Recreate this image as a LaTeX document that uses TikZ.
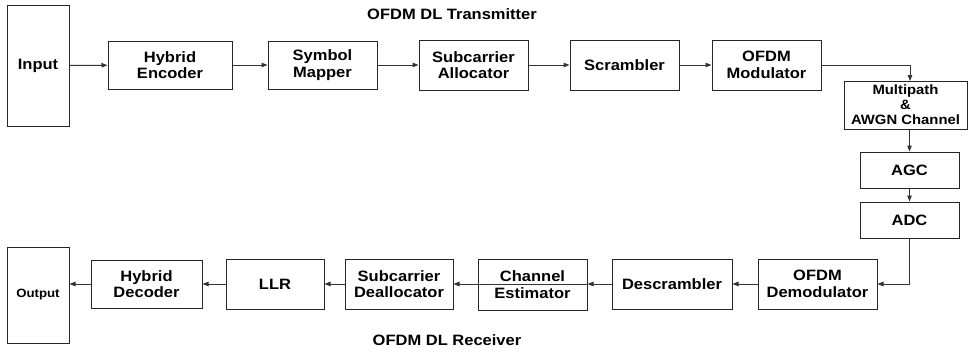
\documentclass[tikz,border=0pt]{standalone}
\usepackage{fontspec}
\setmainfont{Liberation Sans}[FakeStretch=1.1]
\usetikzlibrary{arrows.meta}
\begin{document}
\begin{tikzpicture}[x=1pt,y=-1pt,
  blk/.style={draw=black!85, line width=1pt, rectangle, inner sep=0pt, align=center,
    font=\fontsize{15}{16.5}\selectfont\bfseries},
  conn/.style={draw=black!80, line width=1pt, -{Triangle[length=6pt,width=4.5pt]}},
  ttl/.style={font=\fontsize{15}{17}\selectfont\bfseries, inner sep=0pt}]
\useasboundingbox (0,0) rectangle (968,354);
% transmitter
\node[blk, minimum width=62, minimum height=121] (in) at (38,65.5) {Input};
\node[blk, minimum width=124, minimum height=48] (henc) at (170,65) {Hybrid\\Encoder};
\node[blk, minimum width=109, minimum height=48] (smap) at (322.5,65) {Symbol\\Mapper};
\node[blk, minimum width=109, minimum height=50] (salloc) at (473.5,65) {Subcarrier\\Allocator};
\node[blk, minimum width=109, minimum height=50] (scr) at (624.5,65) {Scrambler};
\node[blk, minimum width=109, minimum height=50] (omod) at (766.5,65) {OFDM\\Modulator};
\node[blk, minimum width=123, minimum height=48, font=\fontsize{13.5}{15}\selectfont\bfseries] (chan) at (905.5,105) {Multipath\\\&\\AWGN Channel};
\node[blk, minimum width=99, minimum height=36] (agc) at (909.5,170) {AGC};
\node[blk, minimum width=99, minimum height=36] (adc) at (909.5,220) {ADC};
% receiver
\node[blk, minimum width=119, minimum height=50] (odem) at (817.5,284) {OFDM\\Demodulator};
\node[blk, minimum width=120, minimum height=50] (dscr) at (672,284) {Descrambler};
\node[blk, minimum width=109, minimum height=51] (cest) at (532.5,284.5) {Channel\\Estimator};
\node[blk, minimum width=108, minimum height=50] (sdeal) at (399,284) {Subcarrier\\Deallocator};
\node[blk, minimum width=98, minimum height=50] (llr) at (275,284) {LLR};
\node[blk, minimum width=111, minimum height=48] (hdec) at (146.5,284) {Hybrid\\Decoder};
\node[blk, minimum width=62, minimum height=96, font=\fontsize{12}{14}\selectfont\bfseries] (out) at (38,295) {Output};
% titles
\node[ttl] (ttx) at (452,14) {OFDM DL Transmitter};
\node[ttl] (trx) at (447,340) {OFDM DL Receiver};
% connectors
\draw[conn] (in) -- (henc);
\draw[conn] (henc) -- (smap);
\draw[conn] (smap) -- (salloc);
\draw[conn] (salloc) -- (scr);
\draw[conn] (scr) -- (omod);
\coordinate (chtop) at (910,81);
\draw[conn] (omod.east) -| (chtop);
\draw[conn] (chan.south -| agc.north) -- (agc);
\draw[conn] (agc) -- (adc);
\draw[conn] (adc.south) |- (odem.east);
\draw[conn] (odem) -- (dscr);
\draw[conn] (dscr) -- (dscr -| cest.east);
\draw[conn] (cest.east |- sdeal.east) -- (sdeal);
\draw[conn] (sdeal) -- (llr);
\draw[conn] (llr) -- (hdec);
\draw[conn] (hdec) -- (hdec -| out.east);
\end{tikzpicture}
\end{document}
